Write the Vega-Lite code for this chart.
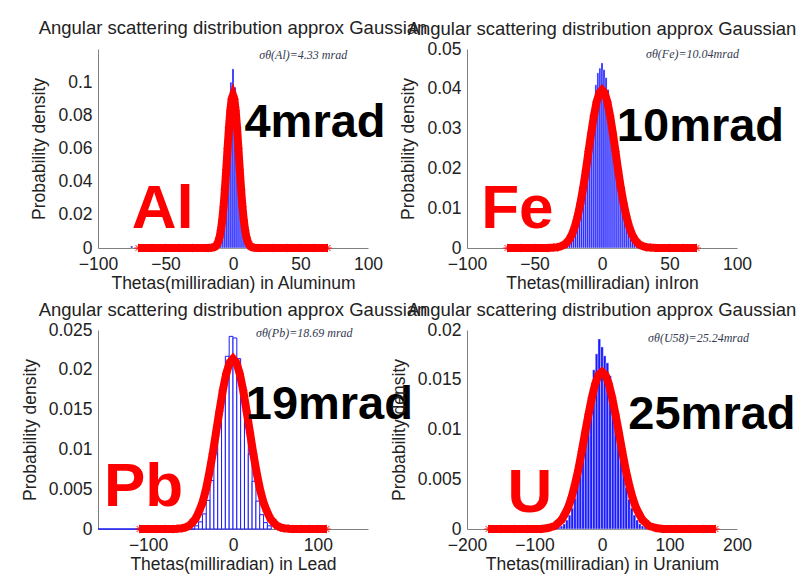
{
  "$schema": "https://vega.github.io/schema/vega-lite/v6.json",
  "padding": {"left": 21, "top": 19, "right": 5, "bottom": 5},
  "background": "white",
  "config": {
    "view": {"stroke": null},
    "font": "Liberation Sans",
    "axis": {"grid": false, "ticks": false, "domainColor": "#808080", "domainWidth": 1, "labelColor": "#222222", "labelFontSize": 17.5, "titleFontSize": 17.5, "titleFontWeight": "normal", "titleColor": "#222222", "labelFlush": false, "labelOverlap": false, "format": "~r", "tickCount": 12},
    "axisX": {"labelPadding": 7, "titlePadding": 2},
    "axisY": {"labelPadding": 6, "titlePadding": 9},
    "title": {"fontSize": 18.5, "fontWeight": "normal", "color": "#222222", "frame": "group", "offset": 2, "baseline": "alphabetic"}
  },
  "datasets": {
    "al_hist": [
      {"t": -75.75, "t2": -74.25, "p": 0.0012},
      {"t": -11.25, "t2": -9.75, "p": 0.002},
      {"t": -9.75, "t2": -8.25, "p": 0.007},
      {"t": -8.25, "t2": -6.75, "p": 0.019},
      {"t": -6.75, "t2": -5.25, "p": 0.038},
      {"t": -5.25, "t2": -3.75, "p": 0.061},
      {"t": -3.75, "t2": -2.25, "p": 0.084},
      {"t": -2.25, "t2": -0.75, "p": 0.100},
      {"t": -0.75, "t2": 0.75, "p": 0.108},
      {"t": 0.75, "t2": 2.25, "p": 0.097},
      {"t": 2.25, "t2": 3.75, "p": 0.086},
      {"t": 3.75, "t2": 5.25, "p": 0.062},
      {"t": 5.25, "t2": 6.75, "p": 0.040},
      {"t": 6.75, "t2": 8.25, "p": 0.021},
      {"t": 8.25, "t2": 9.75, "p": 0.008},
      {"t": 9.75, "t2": 11.25, "p": 0.003}
    ],
    "al_fit": [
      {"t": -70, "p": 0}, {"t": -60, "p": 0}, {"t": -50, "p": 0}, {"t": -40, "p": 0}, {"t": -30, "p": 0}, {"t": -20, "p": 0},
      {"t": -18, "p": 0.00003}, {"t": -16, "p": 0.0001}, {"t": -14, "p": 0.0005}, {"t": -13, "p": 0.0010},
      {"t": -12, "p": 0.0020}, {"t": -11, "p": 0.0037}, {"t": -10, "p": 0.0064}, {"t": -9, "p": 0.0106},
      {"t": -8, "p": 0.0167}, {"t": -7, "p": 0.0249}, {"t": -6, "p": 0.0353}, {"t": -5, "p": 0.0473},
      {"t": -4, "p": 0.0601}, {"t": -3, "p": 0.0725}, {"t": -2, "p": 0.0828}, {"t": -1, "p": 0.0897},
      {"t": 0, "p": 0.0921},
      {"t": 1, "p": 0.0897}, {"t": 2, "p": 0.0828}, {"t": 3, "p": 0.0725}, {"t": 4, "p": 0.0601},
      {"t": 5, "p": 0.0473}, {"t": 6, "p": 0.0353}, {"t": 7, "p": 0.0249}, {"t": 8, "p": 0.0167},
      {"t": 9, "p": 0.0106}, {"t": 10, "p": 0.0064}, {"t": 11, "p": 0.0037}, {"t": 12, "p": 0.0020},
      {"t": 13, "p": 0.0010}, {"t": 14, "p": 0.0005}, {"t": 16, "p": 0.0001}, {"t": 18, "p": 0.00003},
      {"t": 20, "p": 0}, {"t": 30, "p": 0}, {"t": 40, "p": 0}, {"t": 50, "p": 0}, {"t": 60, "p": 0}, {"t": 70, "p": 0}
    ],
    "fe_hist": [
      {"t": -27.75, "t2": -26.25, "p": 0.0004}, {"t": -26.25, "t2": -24.75, "p": 0.0006},
      {"t": -24.75, "t2": -23.25, "p": 0.0011}, {"t": -23.25, "t2": -21.75, "p": 0.0017},
      {"t": -21.75, "t2": -20.25, "p": 0.0026}, {"t": -20.25, "t2": -18.75, "p": 0.0038},
      {"t": -18.75, "t2": -17.25, "p": 0.0055}, {"t": -17.25, "t2": -15.75, "p": 0.0078},
      {"t": -15.75, "t2": -14.25, "p": 0.0106}, {"t": -14.25, "t2": -12.75, "p": 0.0141},
      {"t": -12.75, "t2": -11.25, "p": 0.0180}, {"t": -11.25, "t2": -9.75, "p": 0.0224},
      {"t": -9.75, "t2": -8.25, "p": 0.0272}, {"t": -8.25, "t2": -6.75, "p": 0.0320},
      {"t": -6.75, "t2": -5.25, "p": 0.0368}, {"t": -5.25, "t2": -3.75, "p": 0.0410},
      {"t": -3.75, "t2": -2.25, "p": 0.0440}, {"t": -2.25, "t2": -0.75, "p": 0.0452},
      {"t": -0.75, "t2": 0.75, "p": 0.0465}, {"t": 0.75, "t2": 2.25, "p": 0.0448},
      {"t": 2.25, "t2": 3.75, "p": 0.0428}, {"t": 3.75, "t2": 5.25, "p": 0.0398},
      {"t": 5.25, "t2": 6.75, "p": 0.0358}, {"t": 6.75, "t2": 8.25, "p": 0.0313},
      {"t": 8.25, "t2": 9.75, "p": 0.0266}, {"t": 9.75, "t2": 11.25, "p": 0.0220},
      {"t": 11.25, "t2": 12.75, "p": 0.0176}, {"t": 12.75, "t2": 14.25, "p": 0.0136},
      {"t": 14.25, "t2": 15.75, "p": 0.0102}, {"t": 15.75, "t2": 17.25, "p": 0.0074},
      {"t": 17.25, "t2": 18.75, "p": 0.0053}, {"t": 18.75, "t2": 20.25, "p": 0.0036},
      {"t": 20.25, "t2": 21.75, "p": 0.0024}, {"t": 21.75, "t2": 23.25, "p": 0.0015},
      {"t": 23.25, "t2": 24.75, "p": 0.0009}, {"t": 24.75, "t2": 26.25, "p": 0.0005},
      {"t": 26.25, "t2": 27.75, "p": 0.0003}
    ],
    "fe_fit": [
      {"t": -70, "p": 0}, {"t": -60, "p": 0}, {"t": -50, "p": 0}, {"t": -40, "p": 0},
      {"t": -36, "p": 0.0001}, {"t": -33, "p": 0.0002}, {"t": -30, "p": 0.0005}, {"t": -28, "p": 0.0008},
      {"t": -26, "p": 0.0014}, {"t": -24, "p": 0.0023}, {"t": -22, "p": 0.0036}, {"t": -20, "p": 0.0055},
      {"t": -18, "p": 0.0080}, {"t": -16, "p": 0.0112}, {"t": -14, "p": 0.0150}, {"t": -12, "p": 0.0194},
      {"t": -10, "p": 0.0242}, {"t": -8, "p": 0.0289}, {"t": -6, "p": 0.0332}, {"t": -4, "p": 0.0367},
      {"t": -2, "p": 0.0389}, {"t": 0, "p": 0.0397}, {"t": 2, "p": 0.0389}, {"t": 4, "p": 0.0367},
      {"t": 6, "p": 0.0332}, {"t": 8, "p": 0.0289}, {"t": 10, "p": 0.0242}, {"t": 12, "p": 0.0194},
      {"t": 14, "p": 0.0150}, {"t": 16, "p": 0.0112}, {"t": 18, "p": 0.0080}, {"t": 20, "p": 0.0055},
      {"t": 22, "p": 0.0036}, {"t": 24, "p": 0.0023}, {"t": 26, "p": 0.0014}, {"t": 28, "p": 0.0008},
      {"t": 30, "p": 0.0005}, {"t": 33, "p": 0.0002}, {"t": 36, "p": 0.0001},
      {"t": 40, "p": 0}, {"t": 50, "p": 0}, {"t": 60, "p": 0}, {"t": 70, "p": 0}
    ],
    "pb_hist": [
      {"t": -159, "t2": -45, "p": 0},
      {"t": -45, "t2": -40.5, "p": 0.0004}, {"t": -40.5, "t2": -36, "p": 0.0009},
      {"t": -36, "t2": -31.5, "p": 0.0019}, {"t": -31.5, "t2": -27, "p": 0.0036},
      {"t": -27, "t2": -22.5, "p": 0.0061}, {"t": -22.5, "t2": -18, "p": 0.0096},
      {"t": -18, "t2": -13.5, "p": 0.0138}, {"t": -13.5, "t2": -9, "p": 0.0181},
      {"t": -9, "t2": -4.5, "p": 0.0217}, {"t": -4.5, "t2": 0, "p": 0.0242},
      {"t": 0, "t2": 4.5, "p": 0.0240}, {"t": 4.5, "t2": 9, "p": 0.0214},
      {"t": 9, "t2": 13.5, "p": 0.0178}, {"t": 13.5, "t2": 18, "p": 0.0135},
      {"t": 18, "t2": 22.5, "p": 0.0094}, {"t": 22.5, "t2": 27, "p": 0.0060},
      {"t": 27, "t2": 31.5, "p": 0.0035}, {"t": 31.5, "t2": 36, "p": 0.0018},
      {"t": 36, "t2": 40.5, "p": 0.0008}, {"t": 40.5, "t2": 45, "p": 0.0004}
    ],
    "pb_fit": [
      {"t": -110, "p": 0}, {"t": -100, "p": 0}, {"t": -90, "p": 0}, {"t": -80, "p": 0}, {"t": -70, "p": 0},
      {"t": -66, "p": 0.00003}, {"t": -60, "p": 0.0001}, {"t": -56, "p": 0.0002}, {"t": -52, "p": 0.0004},
      {"t": -48, "p": 0.0008}, {"t": -44, "p": 0.0013}, {"t": -40, "p": 0.0022}, {"t": -36, "p": 0.0033},
      {"t": -32, "p": 0.0049}, {"t": -28, "p": 0.0070}, {"t": -24, "p": 0.0094}, {"t": -20, "p": 0.0121},
      {"t": -16, "p": 0.0148}, {"t": -12, "p": 0.0174}, {"t": -8, "p": 0.0195}, {"t": -4, "p": 0.0209},
      {"t": 0, "p": 0.0214},
      {"t": 4, "p": 0.0209}, {"t": 8, "p": 0.0195}, {"t": 12, "p": 0.0174}, {"t": 16, "p": 0.0148},
      {"t": 20, "p": 0.0121}, {"t": 24, "p": 0.0094}, {"t": 28, "p": 0.0070}, {"t": 32, "p": 0.0049},
      {"t": 36, "p": 0.0033}, {"t": 40, "p": 0.0022}, {"t": 44, "p": 0.0013}, {"t": 48, "p": 0.0008},
      {"t": 52, "p": 0.0004}, {"t": 56, "p": 0.0002}, {"t": 60, "p": 0.0001}, {"t": 66, "p": 0.00003},
      {"t": 70, "p": 0}, {"t": 80, "p": 0}, {"t": 90, "p": 0}, {"t": 100, "p": 0}, {"t": 110, "p": 0}
    ],
    "u_hist": [
      {"t": -70, "t2": -66, "p": 0.0001}, {"t": -66, "t2": -62, "p": 0.0002},
      {"t": -62, "t2": -58, "p": 0.0003}, {"t": -58, "t2": -54, "p": 0.0005},
      {"t": -54, "t2": -50, "p": 0.0009}, {"t": -50, "t2": -46, "p": 0.0014},
      {"t": -46, "t2": -42, "p": 0.0021}, {"t": -42, "t2": -38, "p": 0.0031},
      {"t": -38, "t2": -34, "p": 0.0044}, {"t": -34, "t2": -30, "p": 0.0059},
      {"t": -30, "t2": -26, "p": 0.0078}, {"t": -26, "t2": -22, "p": 0.0098},
      {"t": -22, "t2": -18, "p": 0.0120}, {"t": -18, "t2": -14, "p": 0.0141},
      {"t": -14, "t2": -10, "p": 0.0160}, {"t": -10, "t2": -6, "p": 0.0176},
      {"t": -6, "t2": -2, "p": 0.0191}, {"t": -2, "t2": 2, "p": 0.0183},
      {"t": 2, "t2": 6, "p": 0.0174}, {"t": 6, "t2": 10, "p": 0.0167},
      {"t": 10, "t2": 14, "p": 0.0154}, {"t": 14, "t2": 18, "p": 0.0136},
      {"t": 18, "t2": 22, "p": 0.0116}, {"t": 22, "t2": 26, "p": 0.0095},
      {"t": 26, "t2": 30, "p": 0.0075}, {"t": 30, "t2": 34, "p": 0.0057},
      {"t": 34, "t2": 38, "p": 0.0042}, {"t": 38, "t2": 42, "p": 0.0030},
      {"t": 42, "t2": 46, "p": 0.0021}, {"t": 46, "t2": 50, "p": 0.0014},
      {"t": 50, "t2": 54, "p": 0.0009}, {"t": 54, "t2": 58, "p": 0.0005},
      {"t": 58, "t2": 62, "p": 0.0003}, {"t": 62, "t2": 66, "p": 0.0002},
      {"t": 66, "t2": 70, "p": 0.0001}
    ],
    "u_fit": [
      {"t": -168, "p": 0}, {"t": -150, "p": 0}, {"t": -130, "p": 0}, {"t": -110, "p": 0}, {"t": -90, "p": 0},
      {"t": -80, "p": 0.0001}, {"t": -75, "p": 0.0002}, {"t": -70, "p": 0.0003}, {"t": -65, "p": 0.0006},
      {"t": -60, "p": 0.0009}, {"t": -55, "p": 0.0015}, {"t": -50, "p": 0.0022}, {"t": -45, "p": 0.0032},
      {"t": -40, "p": 0.0045}, {"t": -35, "p": 0.0060}, {"t": -30, "p": 0.0078}, {"t": -25, "p": 0.0097},
      {"t": -20, "p": 0.0115}, {"t": -15, "p": 0.0132}, {"t": -10, "p": 0.0146}, {"t": -5, "p": 0.0155},
      {"t": 0, "p": 0.0158},
      {"t": 5, "p": 0.0155}, {"t": 10, "p": 0.0146}, {"t": 15, "p": 0.0132}, {"t": 20, "p": 0.0115},
      {"t": 25, "p": 0.0097}, {"t": 30, "p": 0.0078}, {"t": 35, "p": 0.0060}, {"t": 40, "p": 0.0045},
      {"t": 45, "p": 0.0032}, {"t": 50, "p": 0.0022}, {"t": 55, "p": 0.0015}, {"t": 60, "p": 0.0009},
      {"t": 65, "p": 0.0006}, {"t": 70, "p": 0.0003}, {"t": 75, "p": 0.0002}, {"t": 80, "p": 0.0001},
      {"t": 90, "p": 0}, {"t": 110, "p": 0}, {"t": 130, "p": 0}, {"t": 150, "p": 0}, {"t": 168, "p": 0}
    ]
  },
  "columns": 2,
  "spacing": {"row": 82, "column": 99},
  "bounds": "flush",
  "concat": [
    {
      "width": 270, "height": 199,
      "title": {"text": "Angular scattering distribution approx Gaussian", "offset": 11},
      "layer": [
        {"data": {"name": "al_hist"}, "mark": {"type": "rect", "color": "#1a1aff", "stroke": "#ffffff", "strokeWidth": 0.4},
         "encoding": {
           "x": {"field": "t", "type": "quantitative", "scale": {"domain": [-100, 100], "nice": false}, "axis": {"values": [-100, -50, 0, 50, 100], "title": "Thetas(milliradian) in Aluminum", "labelOverlap": false, "tickCount": 12}},
           "x2": {"field": "t2"},
           "y": {"field": "p", "type": "quantitative", "scale": {"domain": [0, 0.12], "nice": false}, "axis": {"values": [0, 0.02, 0.04, 0.06, 0.08, 0.1], "title": "Probability density", "labelOverlap": false, "tickCount": 12}},
           "y2": {"datum": 0}}},
        {"data": {"name": "al_fit"}, "mark": {"type": "line", "color": "#ff0000", "strokeWidth": 8},
         "encoding": {"x": {"field": "t", "type": "quantitative"}, "y": {"field": "p", "type": "quantitative"}}},
        {"data": {"name": "al_fit"}, "mark": {"type": "point", "shape": "M-1,0H1M0,-1V1M-0.7,-0.7L0.7,0.7M-0.7,0.7L0.7,-0.7", "filled": false, "color": "#ff0000", "size": 70, "strokeWidth": 1, "opacity": 1},
         "encoding": {"x": {"field": "t", "type": "quantitative"}, "y": {"field": "p", "type": "quantitative"}}},
        {"data": {"values": [{"t": -75, "p": 0.012, "label": "Al"}]}, "mark": {"type": "text", "align": "left", "baseline": "alphabetic", "fontSize": 62, "fontWeight": "bold", "color": "#ff0000"},
         "encoding": {"x": {"field": "t", "type": "quantitative"}, "y": {"field": "p", "type": "quantitative"}, "text": {"field": "label"}}},
        {"data": {"values": [{"t": 8.5, "p": 0.067, "label": "4mrad"}]}, "mark": {"type": "text", "align": "left", "baseline": "alphabetic", "fontSize": 47, "fontWeight": "bold", "color": "#000000"},
         "encoding": {"x": {"field": "t", "type": "quantitative"}, "y": {"field": "p", "type": "quantitative"}, "text": {"field": "label"}}},
        {"data": {"values": [{"t": 52, "p": 0.1164, "label": "σθ(Al)=4.33 mrad"}]}, "mark": {"type": "text", "align": "center", "baseline": "middle", "fontSize": 12, "font": "Liberation Serif", "fontStyle": "italic", "color": "#33394f"},
         "encoding": {"x": {"field": "t", "type": "quantitative"}, "y": {"field": "p", "type": "quantitative"}, "text": {"field": "label"}}}
      ]
    },
    {
      "width": 270, "height": 199,
      "title": {"text": "Angular scattering distribution approx Gaussian"},
      "layer": [
        {"data": {"name": "fe_hist"}, "mark": {"type": "rect", "color": "#1a1aff", "stroke": "#ffffff", "strokeWidth": 0.4},
         "encoding": {
           "x": {"field": "t", "type": "quantitative", "scale": {"domain": [-100, 100], "nice": false}, "axis": {"values": [-100, -50, 0, 50, 100], "title": "Thetas(milliradian) inIron", "labelOverlap": false, "tickCount": 12}},
           "x2": {"field": "t2"},
           "y": {"field": "p", "type": "quantitative", "scale": {"domain": [0, 0.05], "nice": false}, "axis": {"values": [0, 0.01, 0.02, 0.03, 0.04, 0.05], "title": "Probability density", "labelOverlap": false, "tickCount": 12}},
           "y2": {"datum": 0}}},
        {"data": {"name": "fe_fit"}, "mark": {"type": "line", "color": "#ff0000", "strokeWidth": 8},
         "encoding": {"x": {"field": "t", "type": "quantitative"}, "y": {"field": "p", "type": "quantitative"}}},
        {"data": {"name": "fe_fit"}, "mark": {"type": "point", "shape": "M-1,0H1M0,-1V1M-0.7,-0.7L0.7,0.7M-0.7,0.7L0.7,-0.7", "filled": false, "color": "#ff0000", "size": 70, "strokeWidth": 1, "opacity": 1},
         "encoding": {"x": {"field": "t", "type": "quantitative"}, "y": {"field": "p", "type": "quantitative"}}},
        {"data": {"values": [{"t": -89.5, "p": 0.005, "label": "Fe"}]}, "mark": {"type": "text", "align": "left", "baseline": "alphabetic", "fontSize": 62, "fontWeight": "bold", "color": "#ff0000"},
         "encoding": {"x": {"field": "t", "type": "quantitative"}, "y": {"field": "p", "type": "quantitative"}, "text": {"field": "label"}}},
        {"data": {"values": [{"t": 11, "p": 0.0269, "label": "10mrad"}]}, "mark": {"type": "text", "align": "left", "baseline": "alphabetic", "fontSize": 47, "fontWeight": "bold", "color": "#000000"},
         "encoding": {"x": {"field": "t", "type": "quantitative"}, "y": {"field": "p", "type": "quantitative"}, "text": {"field": "label"}}},
        {"data": {"values": [{"t": 67, "p": 0.0487, "label": "σθ(Fe)=10.04mrad"}]}, "mark": {"type": "text", "align": "center", "baseline": "middle", "fontSize": 12, "font": "Liberation Serif", "fontStyle": "italic", "color": "#33394f"},
         "encoding": {"x": {"field": "t", "type": "quantitative"}, "y": {"field": "p", "type": "quantitative"}, "text": {"field": "label"}}}
      ]
    },
    {
      "width": 270, "height": 199,
      "title": {"text": "Angular scattering distribution approx Gaussian"},
      "layer": [
        {"data": {"name": "pb_hist"}, "mark": {"type": "rect", "color": "#ffffff", "stroke": "#1a1aff", "strokeWidth": 1},
         "encoding": {
           "x": {"field": "t", "type": "quantitative", "scale": {"domain": [-159, 159], "nice": false}, "axis": {"values": [-100, 0, 100], "title": "Thetas(milliradian) in Lead", "labelOverlap": false, "tickCount": 12}},
           "x2": {"field": "t2"},
           "y": {"field": "p", "type": "quantitative", "scale": {"domain": [0, 0.025], "nice": false}, "axis": {"values": [0, 0.005, 0.01, 0.015, 0.02, 0.025], "title": "Probability density", "labelOverlap": false, "tickCount": 12}},
           "y2": {"datum": 0}}},
        {"data": {"name": "pb_fit"}, "mark": {"type": "line", "color": "#ff0000", "strokeWidth": 8},
         "encoding": {"x": {"field": "t", "type": "quantitative"}, "y": {"field": "p", "type": "quantitative"}}},
        {"data": {"name": "pb_fit"}, "mark": {"type": "point", "shape": "M-1,0H1M0,-1V1M-0.7,-0.7L0.7,0.7M-0.7,0.7L0.7,-0.7", "filled": false, "color": "#ff0000", "size": 70, "strokeWidth": 1, "opacity": 1},
         "encoding": {"x": {"field": "t", "type": "quantitative"}, "y": {"field": "p", "type": "quantitative"}}},
        {"data": {"values": [{"t": -152, "p": 0.0029, "label": "Pb"}]}, "mark": {"type": "text", "align": "left", "baseline": "alphabetic", "fontSize": 62, "fontWeight": "bold", "color": "#ff0000"},
         "encoding": {"x": {"field": "t", "type": "quantitative"}, "y": {"field": "p", "type": "quantitative"}, "text": {"field": "label"}}},
        {"data": {"values": [{"t": 15, "p": 0.0138, "label": "19mrad"}]}, "mark": {"type": "text", "align": "left", "baseline": "alphabetic", "fontSize": 47, "fontWeight": "bold", "color": "#000000"},
         "encoding": {"x": {"field": "t", "type": "quantitative"}, "y": {"field": "p", "type": "quantitative"}, "text": {"field": "label"}}},
        {"data": {"values": [{"t": 84, "p": 0.0246, "label": "σθ(Pb)=18.69 mrad"}]}, "mark": {"type": "text", "align": "center", "baseline": "middle", "fontSize": 12, "font": "Liberation Serif", "fontStyle": "italic", "color": "#33394f"},
         "encoding": {"x": {"field": "t", "type": "quantitative"}, "y": {"field": "p", "type": "quantitative"}, "text": {"field": "label"}}}
      ]
    },
    {
      "width": 270, "height": 199,
      "title": {"text": "Angular scattering distribution approx Gaussian"},
      "layer": [
        {"data": {"name": "u_hist"}, "mark": {"type": "rect", "color": "#1a1aff", "stroke": "#ffffff", "strokeWidth": 0.4},
         "encoding": {
           "x": {"field": "t", "type": "quantitative", "scale": {"domain": [-200, 200], "nice": false}, "axis": {"values": [-200, -100, 0, 100, 200], "title": "Thetas(milliradian) in  Uranium", "labelOverlap": false, "tickCount": 12}},
           "x2": {"field": "t2"},
           "y": {"field": "p", "type": "quantitative", "scale": {"domain": [0, 0.02], "nice": false}, "axis": {"values": [0, 0.005, 0.01, 0.015, 0.02], "title": "Probability density", "labelOverlap": false, "tickCount": 12}},
           "y2": {"datum": 0}}},
        {"data": {"name": "u_fit"}, "mark": {"type": "line", "color": "#ff0000", "strokeWidth": 8},
         "encoding": {"x": {"field": "t", "type": "quantitative"}, "y": {"field": "p", "type": "quantitative"}}},
        {"data": {"name": "u_fit"}, "mark": {"type": "point", "shape": "M-1,0H1M0,-1V1M-0.7,-0.7L0.7,0.7M-0.7,0.7L0.7,-0.7", "filled": false, "color": "#ff0000", "size": 70, "strokeWidth": 1, "opacity": 1},
         "encoding": {"x": {"field": "t", "type": "quantitative"}, "y": {"field": "p", "type": "quantitative"}}},
        {"data": {"values": [{"t": -140, "p": 0.0017, "label": "U"}]}, "mark": {"type": "text", "align": "left", "baseline": "alphabetic", "fontSize": 62, "fontWeight": "bold", "color": "#ff0000"},
         "encoding": {"x": {"field": "t", "type": "quantitative"}, "y": {"field": "p", "type": "quantitative"}, "text": {"field": "label"}}},
        {"data": {"values": [{"t": 39, "p": 0.0101, "label": "25mrad"}]}, "mark": {"type": "text", "align": "left", "baseline": "alphabetic", "fontSize": 47, "fontWeight": "bold", "color": "#000000"},
         "encoding": {"x": {"field": "t", "type": "quantitative"}, "y": {"field": "p", "type": "quantitative"}, "text": {"field": "label"}}},
        {"data": {"values": [{"t": 143, "p": 0.0192, "label": "σθ(U58)=25.24mrad"}]}, "mark": {"type": "text", "align": "center", "baseline": "middle", "fontSize": 12, "font": "Liberation Serif", "fontStyle": "italic", "color": "#33394f"},
         "encoding": {"x": {"field": "t", "type": "quantitative"}, "y": {"field": "p", "type": "quantitative"}, "text": {"field": "label"}}}
      ]
    }
  ]
}
